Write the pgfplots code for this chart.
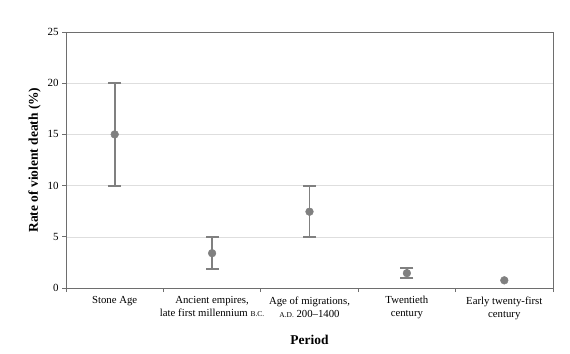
\documentclass[border=0pt]{standalone}
\usepackage{pgfplots}
\pgfplotsset{compat=1.18}
\usepackage{fontspec}
\setmainfont{Liberation Serif}
\definecolor{ptgray}{RGB}{128,128,128}
\definecolor{axgray}{RGB}{110,110,110}
\definecolor{gridgray}{RGB}{222,222,222}
\newcommand{\sm}[1]{{\fontsize{7.5}{9}\selectfont #1}}
\begin{document}
\begin{tikzpicture}
\begin{axis}[
  scale only axis,
  width=487bp, height=256bp,
  xmin=-0.5, xmax=4.5, ymin=0, ymax=25,
  axis line style={axgray, line width=0.9pt},
  ytick={0,5,...,25},
  xtick={0,1,2,3,4},
  xticklabels={Stone Age,{Ancient empires,\\late first millennium \sm{B.C.}},{Age of migrations,\\\sm{A.D.} 200--1400},{Twentieth\\century},{Early twenty-first\\century}},
  xticklabel style={align=center, font=\fontsize{10.8}{13}\selectfont, yshift=-1pt},
  yticklabel style={font=\fontsize{11}{13}\selectfont},
  /pgf/number format/assume math mode=true,
  xtick style={draw=none},
  extra x ticks={-0.5,0.5,1.5,2.5,3.5,4.5},
  extra x tick labels={},
  extra x tick style={xtick style={draw=axgray, line width=0.8pt}, major tick length=4bp, grid=none, tick pos=bottom, tick align=outside},
  tick align=outside,
  ytick pos=left,
  major tick length=4bp,
  ytick style={axgray, line width=0.8pt},
  ymajorgrids,
  grid style={gridgray, line width=0.6pt},
  ylabel={\bfseries Rate of violent death (\%)},
  xlabel={\bfseries Period},
  label style={font=\fontsize{13.5}{15}\selectfont},
  xlabel style={yshift=-1pt},
  clip=false,
]
\addplot[draw=ptgray, line width=2pt, mark=-, mark size=6.5bp, mark options={solid, line width=2pt, ptgray}] coordinates {(0,10) (0,20)};
\addplot[draw=ptgray, line width=2pt, mark=-, mark size=6.5bp, mark options={solid, line width=2pt, ptgray}] coordinates {(1,1.9) (1,5.0)};
\addplot[draw=ptgray, line width=2pt, mark=-, mark size=6.5bp, mark options={solid, line width=2pt, ptgray}] coordinates {(2,5.0) (2,10.0)};
\addplot[draw=ptgray, line width=2pt, mark=-, mark size=6.5bp, mark options={solid, line width=2pt, ptgray}] coordinates {(3,0.95) (3,2.0)};
\addplot[only marks, mark=*, mark size=3.9bp, color=ptgray] coordinates {(0,15) (1,3.4) (2,7.45) (3,1.45) (4,0.75)};
\end{axis}
\path (current axis.south west) ++(-66bp,-66bp);
\path (current axis.north east) ++(17bp,32bp);
\end{tikzpicture}
\end{document}
